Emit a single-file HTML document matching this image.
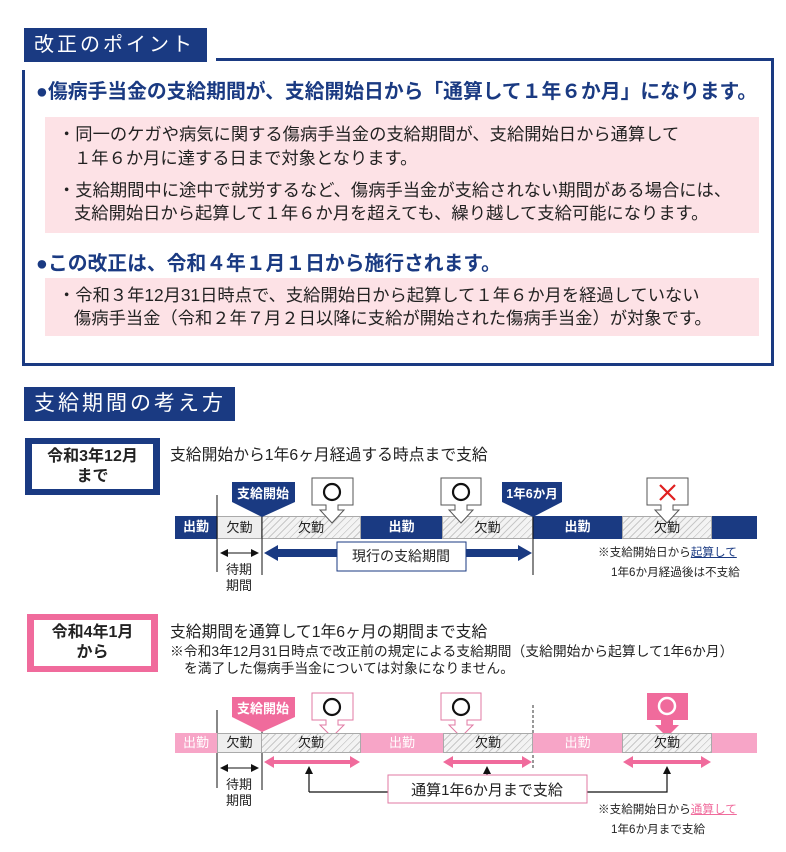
<!DOCTYPE html>
<html><head><meta charset="utf-8"><style>
*{margin:0;padding:0;box-sizing:border-box}
body{width:786px;height:852px;background:#fff;position:relative;overflow:hidden;font-family:"Liberation Sans","Noto Sans CJK JP",sans-serif;color:#222}
.a{position:absolute}
.navy{background:#1a3a82}
.h{color:#fff;font-size:20px;letter-spacing:3px;line-height:34px;padding-left:10px}
.pk{background:#fde2e6}
.t16{font-size:17.3px;line-height:23px;color:#222;white-space:nowrap}
.hd{font-size:19.8px;color:#1a3a82;font-weight:bold;white-space:nowrap}
.seg{position:absolute;height:22px;font-size:13px;text-align:center;line-height:22px;white-space:nowrap}
.n{background:#1a3a82;color:#fff;font-weight:bold}
.p{background:#f7a5c7;color:#fff}
.g{background:#eee;border:1.5px solid #aaa;color:#222}
.ht{background:repeating-linear-gradient(135deg,#f3f3f3 0 4px,#c8c8c8 4px 5px);border:1.5px solid #aaa;color:#222}
.sm{font-size:11.6px;white-space:nowrap;color:#222}
</style></head><body>

<div class="a navy h" style="left:24px;top:28px;width:183px;height:34px">改正のポイント</div>
<div class="a" style="left:216px;top:58px;width:558px;height:3px;background:#1a3a82"></div>
<div class="a" style="left:22px;top:70px;width:3px;height:296px;background:#1a3a82"></div>
<div class="a" style="left:771px;top:58px;width:3px;height:308px;background:#1a3a82"></div>
<div class="a" style="left:22px;top:363px;width:752px;height:3px;background:#1a3a82"></div>

<div class="a hd" style="left:36px;top:75px">●傷病手当金の支給期間が、支給開始日から「通算して１年６か月」になります。</div>
<div class="a pk" style="left:45px;top:117px;width:714px;height:116px"></div>
<div class="a t16" style="left:58px;top:123px">・同一のケガや病気に関する傷病手当金の支給期間が、支給開始日から通算して</div>
<div class="a t16" style="left:74px;top:147px">１年６か月に達する日まで対象となります。</div>
<div class="a t16" style="left:58px;top:179px">・支給期間中に途中で就労するなど、傷病手当金が支給されない期間がある場合には、</div>
<div class="a t16" style="left:74px;top:202px">支給開始日から起算して１年６か月を超えても、繰り越して支給可能になります。</div>

<div class="a hd" style="left:36px;top:247px">●この改正は、令和４年１月１日から施行されます。</div>
<div class="a pk" style="left:45px;top:278px;width:714px;height:58px"></div>
<div class="a t16" style="left:58px;top:284px">・令和３年12月31日時点で、支給開始日から起算して１年６か月を経過していない</div>
<div class="a t16" style="left:74px;top:307px">傷病手当金（令和２年７月２日以降に支給が開始された傷病手当金）が対象です。</div>

<div class="a navy h" style="left:24px;top:387px;width:211px;height:34px;font-size:21px">支給期間の考え方</div>

<div class="a navy" style="left:25px;top:438px;width:135px;height:57px"></div>
<div class="a" style="left:32px;top:444px;width:121px;height:45px;background:#fff;text-align:center;font-size:16px;font-weight:bold;line-height:20px;padding-top:3px">令和3年12月<br>まで</div>
<div class="a" style="left:170px;top:442px;font-size:15.8px;white-space:nowrap">支給開始から1年6ヶ月経過する時点まで支給</div>

<div class="seg n" style="left:175px;top:516px;width:42px;height:23px">出勤</div>
<div class="seg g" style="left:217px;top:516px;width:45px;height:23px">欠勤</div>
<div class="seg ht" style="left:261px;top:516px;width:100px;height:23px">欠勤</div>
<div class="seg n" style="left:361px;top:516px;width:81px;height:23px">出勤</div>
<div class="seg ht" style="left:442px;top:516px;width:91px;height:23px">欠勤</div>
<div class="seg n" style="left:533px;top:516px;width:89px;height:23px">出勤</div>
<div class="seg ht" style="left:622px;top:516px;width:90px;height:23px">欠勤</div>
<div class="seg n" style="left:712px;top:516px;width:45px;height:23px"></div>

<svg class="a" style="left:0;top:0" width="786" height="852">
<defs>
<marker id="ab" markerWidth="8" markerHeight="8" refX="7" refY="4" orient="auto-start-reverse"><path d="M0,0 L8,4 L0,8z" fill="#111"/></marker>
</defs>
<line x1="217" y1="495" x2="217" y2="572" stroke="#111"/>
<line x1="262" y1="515" x2="262" y2="575" stroke="#111"/>
<line x1="533" y1="515" x2="533" y2="575" stroke="#111"/>
<path d="M232,482 H295 V502 L262,517 L232,502z" fill="#1a3a82"/>
<text x="263" y="498" font-size="13" fill="#fff" font-weight="bold" text-anchor="middle">支給開始</text>
<path d="M502,482 H562 V502 L533,517 L502,502z" fill="#1a3a82"/>
<text x="532" y="498" font-size="12.5" fill="#fff" font-weight="bold" text-anchor="middle">1年6か月</text>
<line x1="221" y1="553" x2="258" y2="553" stroke="#111" marker-start="url(#ab)" marker-end="url(#ab)"/>
<path d="M264,553 L278,545 V549 H518 V545 L532,553 L518,561 V557 H278 V561z" fill="#1a3a82"/>
<rect x="337" y="542" width="129" height="29" fill="#fff" stroke="#1a3a82" stroke-width="1"/>
<text x="401" y="561" font-size="14" text-anchor="middle" fill="#222">現行の支給期間</text>
<g fill="#fff" stroke="#555" stroke-width="1">
<path d="M312,478 H353 V505 H338 V510 H344 L332,523 L320,510 H326 V505 H312z"/>
<path d="M441,478 H481 V505 H467 V510 H473 L461,523 L449,510 H455 V505 H441z"/>
<path d="M647,478 H688 V505 H673 V510 H679 L667,523 L655,510 H661 V505 H647z"/>
</g>
<circle cx="332" cy="492" r="8" fill="none" stroke="#111" stroke-width="2.2"/>
<circle cx="461" cy="492" r="8" fill="none" stroke="#111" stroke-width="2.2"/>
<path d="M660,485 L675,500 M675,485 L660,500" stroke="#e02020" stroke-width="2.2"/>
<text x="226" y="574" font-size="13" fill="#222">待期</text>
<text x="226" y="590" font-size="13" fill="#222">期間</text>

<line x1="217" y1="710" x2="217" y2="788" stroke="#111"/>
<line x1="262" y1="730" x2="262" y2="790" stroke="#111"/>
<line x1="533" y1="705" x2="533" y2="770" stroke="#333" stroke-dasharray="3,2"/>
<path d="M232,697 H295 V717 L262,732 L232,717z" fill="#f06b9c"/>
<text x="263" y="713" font-size="13" fill="#fff" font-weight="bold" text-anchor="middle">支給開始</text>
<line x1="221" y1="768" x2="258" y2="768" stroke="#111" marker-start="url(#ab)" marker-end="url(#ab)"/>
<g fill="#f06b9c">
<path d="M264,762 L274,756 V760 H350 V756 L360,762 L350,768 V764 H274 V768z"/>
<path d="M443,762 L453,756 V760 H522 V756 L532,762 L522,768 V764 H453 V768z"/>
<path d="M623,762 L633,756 V760 H701 V756 L711,762 L701,768 V764 H633 V768z"/>
</g>
<g fill="#fff" stroke="#e07aa3" stroke-width="1">
<path d="M312,693 H353 V720 H338 V725 H344 L332,737 L320,725 H326 V720 H312z"/>
<path d="M441,693 H481 V720 H467 V725 H473 L461,737 L449,725 H455 V720 H441z"/>
</g>
<path d="M647,693 H688 V720 H673 V725 H679 L667,737 L655,725 H661 V720 H647z" fill="#f06b9c"/>
<circle cx="332" cy="707" r="8" fill="none" stroke="#111" stroke-width="2.2"/>
<circle cx="461" cy="707" r="8" fill="none" stroke="#111" stroke-width="2.2"/>
<circle cx="667" cy="706" r="8" fill="none" stroke="#fff" stroke-width="2.5"/>
<path d="M309,792 V768 M388,792 H309 M587,792 H667 V768 M487,775 V768" stroke="#111" stroke-width="1.2" fill="none"/>
<path d="M305,774 L309,766 L313,774z M663,774 L667,766 L671,774z M483,774 L487,766 L491,774z" fill="#111"/>
<rect x="388" y="775" width="199" height="28" fill="#fff" stroke="#e07aa3" stroke-width="1"/>
<text x="487" y="795" font-size="15" text-anchor="middle" fill="#222">通算1年6か月まで支給</text>
<text x="226" y="789" font-size="13" fill="#222">待期</text>
<text x="226" y="805" font-size="13" fill="#222">期間</text>
</svg>

<div class="a sm" style="left:598px;top:544px">※支給開始日から<span style="color:#1a3a82;text-decoration:underline">起算して</span></div>
<div class="a sm" style="left:611px;top:564px">1年6か月経過後は不支給</div>

<div class="a" style="left:27px;top:614px;width:131px;height:58px;background:#f06b9c"></div>
<div class="a" style="left:34px;top:620px;width:117px;height:46px;background:#fff;text-align:center;font-size:16px;font-weight:bold;line-height:20px;padding-top:3px">令和4年1月<br>から</div>
<div class="a" style="left:170px;top:619px;font-size:15.8px;white-space:nowrap">支給期間を通算して1年6ヶ月の期間まで支給</div>
<div class="a" style="left:170px;top:640px;font-size:13.8px;white-space:nowrap">※令和3年12月31日時点で改正前の規定による支給期間（支給開始から起算して1年6か月）</div>
<div class="a" style="left:184px;top:657px;font-size:13.8px;white-space:nowrap">を満了した傷病手当金については対象になりません。</div>

<div class="seg p" style="left:175px;top:733px;width:42px;height:20px;line-height:20px">出勤</div>
<div class="seg g" style="left:217px;top:733px;width:45px;height:20px;line-height:18px">欠勤</div>
<div class="seg ht" style="left:261px;top:733px;width:100px;height:20px;line-height:18px">欠勤</div>
<div class="seg p" style="left:361px;top:733px;width:82px;height:20px;line-height:20px">出勤</div>
<div class="seg ht" style="left:443px;top:733px;width:90px;height:20px;line-height:18px">欠勤</div>
<div class="seg p" style="left:533px;top:733px;width:89px;height:20px;line-height:20px">出勤</div>
<div class="seg ht" style="left:622px;top:733px;width:90px;height:20px;line-height:18px">欠勤</div>
<div class="seg p" style="left:712px;top:733px;width:45px;height:20px"></div>

<div class="a sm" style="left:598px;top:801px">※支給開始日から<span style="color:#f06b9c;text-decoration:underline">通算して</span></div>
<div class="a sm" style="left:611px;top:821px">1年6か月まで支給</div>
</body></html>
